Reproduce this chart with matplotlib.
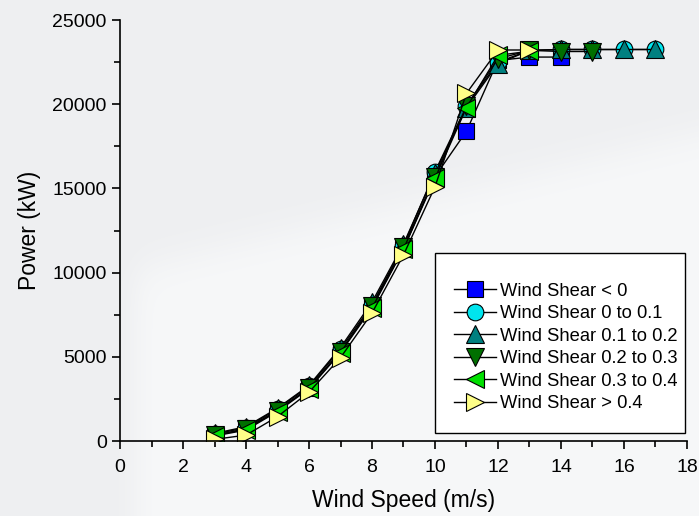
import numpy as np
import matplotlib
matplotlib.use("Agg")
import matplotlib.pyplot as plt
from matplotlib.patches import Rectangle
from matplotlib.ticker import MultipleLocator

plt.rcParams["font.family"] = ["Liberation Sans", "DejaVu Sans"]

# power curves binned by wind shear class
speed = [3, 4, 5, 6, 7, 8, 9, 10, 11, 12, 13, 14, 15, 16, 17]

shear_lt0 = [300, 750, 1800, 3150, 5300, 8000, 11400, 15700, 18400, 22600, 22800, 22800]
shear_0_01 = [400, 800, 1900, 3250, 5450, 8100, 11600, 16000, 19900, 22500, 23200, 23250, 23250, 23250, 23250]
shear_01_02 = [450, 850, 1950, 3300, 5550, 8250, 11700, 15900, 19800, 22400, 23200, 23250, 23250, 23250, 23250]
shear_02_03 = [350, 700, 1800, 3150, 5300, 8000, 11500, 15700, 19900, 22700, 23200, 23130, 23130]
shear_03_04 = [300, 650, 1750, 3100, 5250, 7900, 11400, 15600, 19800, 22900, 23150]
shear_gt04 = [100, 350, 1450, 2900, 4950, 7600, 11050, 15100, 20650, 23220, 23220]

series = [
    ("Wind Shear < 0", shear_lt0, "s", "#0000ff", 11),
    ("Wind Shear 0 to 0.1", shear_0_01, "o", "#00e5ee", 12),
    ("Wind Shear 0.1 to 0.2", shear_01_02, "^", "#008080", 13.5),
    ("Wind Shear 0.2 to 0.3", shear_02_03, "v", "#007000", 13.5),
    ("Wind Shear 0.3 to 0.4", shear_03_04, "<", "#00e000", 13.5),
    ("Wind Shear > 0.4", shear_gt04, ">", "#ffff88", 13.5),
]

W, H = 699, 516
fig = plt.figure(figsize=(W / 100, H / 100), dpi=100, facecolor="#eeeff1")

# soft light swoosh behind the plot
bg = fig.add_axes([0, 0, 1, 1], zorder=-5)
yy, xx = np.mgrid[0:H, 0:W]
edge = 265 - (xx - 150) * 0.24
band = 1 / (1 + np.exp(-(yy - edge) / 12.0)) * 1 / (1 + np.exp(-(xx - 135) / 8.0))
base = np.array([0xee, 0xef, 0xf1]) / 255
light = np.array([0xf7, 0xf8, 0xf9]) / 255
img = base + band[..., None] * (light - base)
bg.imshow(img, extent=[0, W, H, 0], aspect="auto")
bg.axis("off")

ax = fig.add_axes([0.1717, 0.1453, 0.8111, 0.8159])
ax.set_facecolor("none")

for label, vals, mk, col, ms in series:
    ax.plot(speed[:len(vals)], vals, color="black", lw=1.0, marker=mk,
            markersize=ms, markerfacecolor=col, markeredgecolor="black",
            markeredgewidth=0.8, label=label)

ax.set_xlim(0, 18)
ax.set_ylim(0, 25000)
ax.xaxis.set_major_locator(MultipleLocator(2))
ax.xaxis.set_minor_locator(MultipleLocator(1))
ax.yaxis.set_major_locator(MultipleLocator(5000))
ax.yaxis.set_minor_locator(MultipleLocator(2500))
ax.tick_params(which="major", direction="out", length=6, width=1.2, labelsize=14)
ax.tick_params(axis="x", which="major", pad=7)
ax.tick_params(which="minor", direction="out", length=4, width=1.2)
for side in ("top", "right"):
    ax.spines[side].set_visible(False)
for side in ("left", "bottom"):
    ax.spines[side].set_linewidth(1.2)

ax.set_xlabel("Wind Speed (m/s)", fontsize=16.5, labelpad=9)
ax.set_ylabel("Power (kW)", fontsize=16.5, labelpad=8)

# legend box drawn separately so the padding can be uneven
ax.add_patch(Rectangle((0.5556, 0.019), 0.4409, 0.4276, transform=ax.transAxes,
                       facecolor="white", edgecolor="black", lw=1.0, zorder=3,
                       clip_on=False))
leg = ax.legend(loc="center", bbox_to_anchor=(0.786, 0.222), fontsize=13.2,
                frameon=False, borderpad=0, handlelength=2.3, handletextpad=0.25,
                labelspacing=0.3)
leg.set_zorder(4)

fig.savefig("out.png", dpi=100, facecolor=fig.get_facecolor())
